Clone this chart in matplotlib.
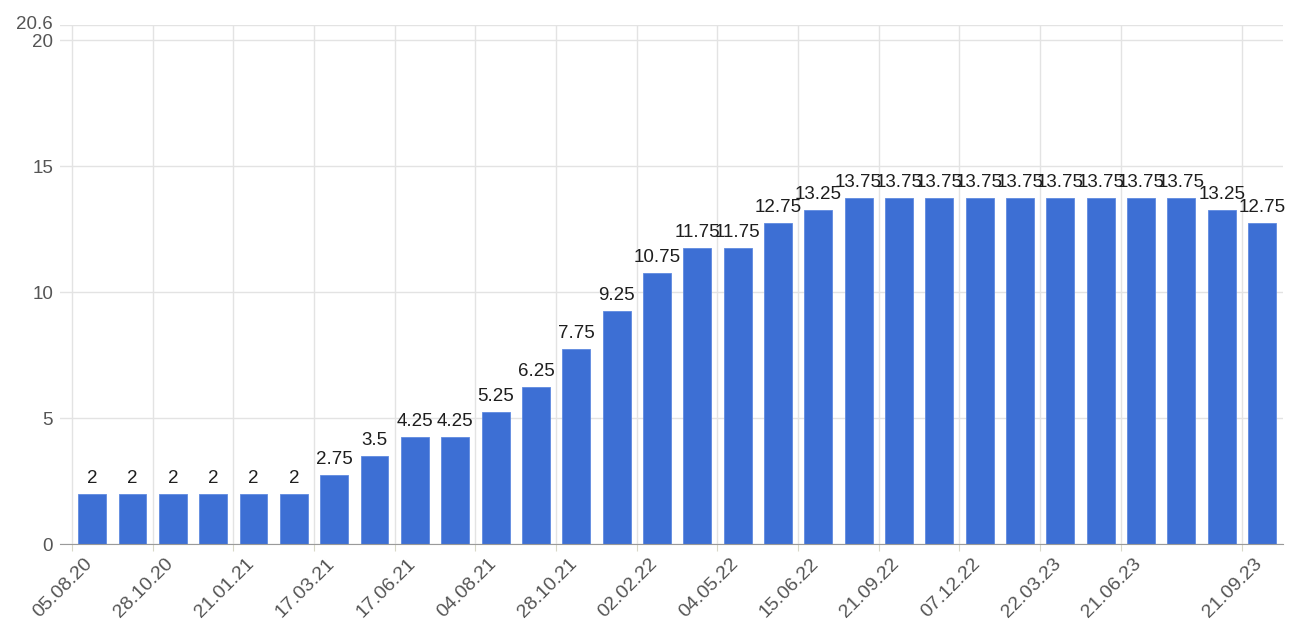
import numpy as np
import matplotlib
matplotlib.use("Agg")
import matplotlib.pyplot as plt
import matplotlib.transforms as mtransforms

plt.rcParams['font.family'] = ['Liberation Sans', 'DejaVu Sans']

# key rate by meeting, in %
rates = [2, 2, 2, 2, 2, 2, 2.75, 3.5, 4.25, 4.25, 5.25, 6.25, 7.75, 9.25,
         10.75, 11.75, 11.75, 12.75, 13.25, 13.75, 13.75, 13.75, 13.75, 13.75,
         13.75, 13.75, 13.75, 13.75, 13.25, 12.75]
date_labels = ['05.08.20', '28.10.20', '21.01.21', '17.03.21', '17.06.21',
               '04.08.21', '28.10.21', '02.02.22', '04.05.22', '15.06.22',
               '21.09.22', '07.12.22', '22.03.23', '21.06.23', '21.09.23']
# bar index each date label sits in front of
label_bars = [0, 2, 4, 6, 8, 10, 12, 14, 16, 18, 20, 22, 24, 26, 29]
ytick_vals = [0, 5, 10, 15, 20]
y_max = 20.6


def fmt(v):
    return f"{v:g}"


fig = plt.figure(figsize=(12.92, 6.32), dpi=100)
ax = fig.add_axes([0.0464, 0.1392, 0.9466, 0.8212])

x = np.arange(len(rates))
ax.bar(x, rates, width=0.69, color='#3d6fd4', edgecolor='#5f8ae0',
       linewidth=0.6, zorder=3)

for xi, v in zip(x, rates):
    ax.annotate(fmt(v), (xi, v), xytext=(0, 5), textcoords='offset points',
                ha='center', va='bottom', fontsize=13.5, color='#1e1e1e',
                zorder=4)

ax.set_xlim(-0.8, len(rates) - 0.48)
ax.set_ylim(0, y_max)

tick_pos = [b - 0.5 for b in label_bars]
ax.set_xticks(tick_pos)
ax.set_xticklabels(date_labels, rotation=45, ha='right',
                   rotation_mode='anchor', fontsize=14, color='#555555')
ax.tick_params(axis='x', length=5, color='#d8d8c8', pad=3)
shift = mtransforms.ScaledTranslation(12 / 100, 0, fig.dpi_scale_trans)
for lbl in ax.get_xticklabels():
    lbl.set_transform(lbl.get_transform() + shift)

ax.set_yticks(ytick_vals + [y_max])
ax.set_yticklabels([fmt(v) for v in ytick_vals] + [fmt(y_max)],
                   fontsize=13.5, color='#555555')
ax.tick_params(axis='y', length=0, pad=5)
# top label sits a little above its line, as in the original
top_lbl = ax.get_yticklabels()[-1]
up = mtransforms.ScaledTranslation(0, 3 / 100, fig.dpi_scale_trans)
top_lbl.set_transform(top_lbl.get_transform() + up)

ax.grid(True, color='#e3e3e3', linewidth=1, zorder=0)
for s in ['top', 'right', 'left']:
    ax.spines[s].set_visible(False)
ax.spines['bottom'].set_color('#9a9a9a')
ax.spines['bottom'].set_zorder(5)

fig.savefig('out.png', dpi=100)
